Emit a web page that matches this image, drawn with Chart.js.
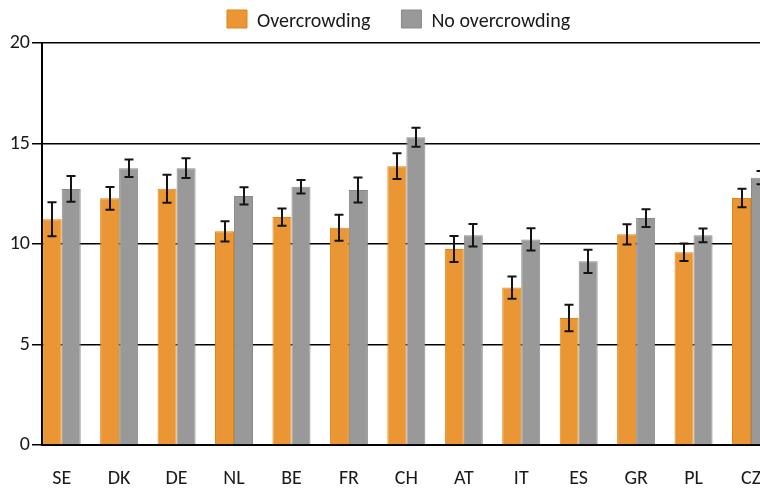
<!DOCTYPE html>
<html>
<head>
<meta charset="utf-8">
<script src="https://cdn.jsdelivr.net/npm/chart.js@4.4.0/dist/chart.umd.min.js"></script>
<style>
  html, body { margin: 0; padding: 0; background: #fff; overflow: hidden; }
  #wrap { position: relative; width: 800px; height: 488px; }
</style>
</head>
<body>
<div id="wrap"><canvas id="c"></canvas></div>
<script>
const countries = ["SE", "DK", "DE", "NL", "BE", "FR", "CH", "AT", "IT", "ES", "GR", "PL", "CZ"];
const overcrowding = [11.23, 12.27, 12.75, 10.63, 11.34, 10.81, 13.87, 9.75, 7.83, 6.32, 10.48, 9.59, 12.29];
const overcrowdingErr = [0.85, 0.57, 0.70, 0.50, 0.43, 0.65, 0.64, 0.65, 0.55, 0.66, 0.50, 0.43, 0.46];
const noOvercrowding = [12.74, 13.77, 13.77, 12.39, 12.85, 12.69, 15.31, 10.43, 10.23, 9.14, 11.29, 10.43, 13.30];
const noOvercrowdingErr = [0.64, 0.44, 0.49, 0.43, 0.34, 0.62, 0.47, 0.56, 0.55, 0.58, 0.44, 0.34, 0.33];
const yTicks = [0, 5, 10, 15, 20];

const FONT = 'Carlito, Calibri, "Open Sans", sans-serif';
const TEXT = '#1a1a1a';

const errorBars = {
  id: 'errorBars',
  afterDatasetsDraw(chart) {
    const ctx = chart.ctx;
    const y = chart.scales.y;
    ctx.save();
    ctx.strokeStyle = '#141414';
    ctx.lineWidth = 2;
    chart.data.datasets.forEach((ds, di) => {
      const meta = chart.getDatasetMeta(di);
      meta.data.forEach((bar, i) => {
        const v = ds.data[i].y, e = ds.errors[i];
        const top = y.getPixelForValue(v + e);
        const bot = y.getPixelForValue(v - e);
        const x = Math.round(bar.x);
        ctx.beginPath();
        ctx.moveTo(x, top); ctx.lineTo(x, bot);
        ctx.moveTo(x - 4.5, top); ctx.lineTo(x + 4.5, top);
        ctx.moveTo(x - 4.5, bot); ctx.lineTo(x + 4.5, bot);
        ctx.stroke();
      });
    });
    ctx.restore();
  }
};

const legendPos = {
  id: 'legendPos',
  beforeInit(chart) {
    const lg = chart.legend;
    if (!lg) return;
    const fit = lg.fit;
    lg.fit = function () { fit.call(this); this.height = 43; };
    const drawOrig = lg._draw;
    lg._draw = function () {
      const ctx = this.ctx;
      const ft = CanvasRenderingContext2D.prototype.fillText;
      ctx.fillText = function (t, x, yy, ...r) { return ft.call(this, t, x, yy + 3, ...r); };
      try { drawOrig.call(this); } finally { delete ctx.fillText; }
    };
  },
  beforeDraw(chart) {
    const lg = chart.legend;
    if (!lg) return;
    const pad = lg.options.labels.padding;
    lg.left = 227 - pad;
    lg.right = 800;
    lg.top = 9 - pad;
    lg.bottom = 43;
  }
};

new Chart(document.getElementById('c'), {
  type: 'bar',
  data: {
    datasets: [
      {
        label: 'Overcrowding',
        data: overcrowding.map((v, i) => ({ x: i, y: v })),
        errors: overcrowdingErr,
        backgroundColor: '#EA9634',
        borderColor: '#E3850F',
        borderWidth: 1
      },
      {
        label: 'No overcrowding',
        data: noOvercrowding.map((v, i) => ({ x: i, y: v })),
        errors: noOvercrowdingErr,
        backgroundColor: '#999999',
        borderColor: '#8a8a8a',
        borderWidth: 1
      }
    ]
  },
  options: {
    responsive: true,
    maintainAspectRatio: false,
    animation: false,
    layout: { padding: 0 },
    datasets: { bar: { categoryPercentage: 0.6616, barPercentage: 1.0 } },
    plugins: {
      tooltip: { enabled: false },
      legend: {
        position: 'top',
        align: 'start',
        labels: {
          boxWidth: 20,
          boxHeight: 18,
          padding: 31,
          color: TEXT,
          font: { family: FONT, size: 20 }
        }
      }
    },
    scales: {
      x: {
        type: 'linear',
        offset: false,
        bounds: 'data',
        min: -0.343,
        max: 12.853,
        afterBuildTicks(scale) { scale.ticks = countries.map((_, i) => ({ value: i })); },
        afterFit(scale) { scale.height = 43; },
        grid: { display: false, drawTicks: false, offset: false },
        border: { display: true, color: '#000', width: 2 },
        ticks: {
          padding: 22,
          color: TEXT,
          font: { family: FONT, size: 20 },
          maxRotation: 0,
          autoSkip: false,
          callback: (v) => countries[v] !== undefined ? countries[v] : ''
        }
      },
      y: {
        min: 0,
        max: 20,
        afterBuildTicks(scale) { scale.ticks = yTicks.map(v => ({ value: v })); },
        afterFit(scale) { scale.width = 42; },
        grid: { color: '#000', lineWidth: 1.5, tickLength: 10, tickColor: '#000', tickWidth: 1.5 },
        border: { display: true, color: '#000', width: 2 },
        ticks: {
          padding: 2,
          color: TEXT,
          font: { family: FONT, size: 20 }
        }
      }
    }
  },
  plugins: [legendPos, errorBars]
});
</script>
</body>
</html>
